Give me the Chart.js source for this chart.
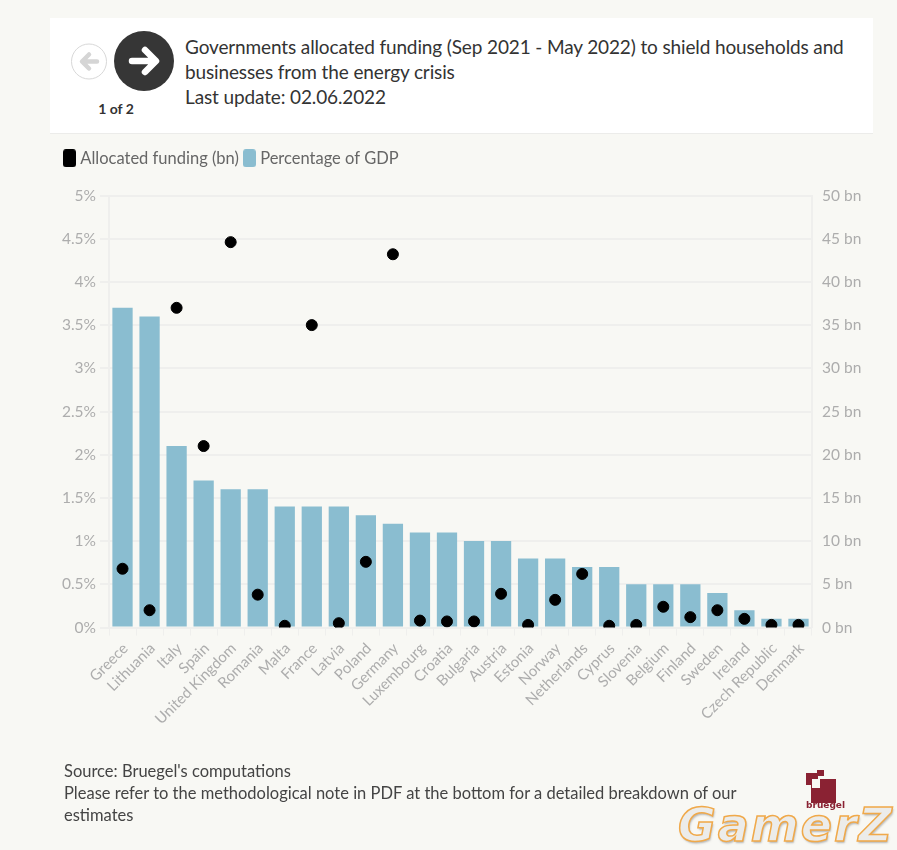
<!DOCTYPE html>
<html><head><meta charset="utf-8">
<script src="https://cdn.jsdelivr.net/npm/chart.js@4"></script>
<style>
html,body{margin:0;padding:0;width:897px;height:850px;overflow:hidden;background:#f8f8f4;font-family:Lato,sans-serif;}
canvas{position:absolute;left:0;top:0;}
.abs{position:absolute;}
#head{left:50px;top:18px;width:823px;height:115px;background:#fff;border-bottom:1px solid #ececea;}
#title{left:185px;top:34px;width:680px;font-family:Lato;font-size:19px;letter-spacing:-0.13px;line-height:25px;color:#333;white-space:nowrap;}
#page{left:90px;top:100px;width:52px;text-align:center;font-family:Lato;font-weight:700;font-size:14px;color:#333;}
#src{left:64px;top:760px;font-family:Lato;font-size:16.5px;line-height:22px;color:#444;white-space:nowrap;}
#wm{left:678px;top:796px;font-family:"DejaVu Sans";font-style:italic;font-weight:700;font-size:46px;line-height:58px;letter-spacing:2px;color:#ececea;-webkit-text-stroke:1.5px #f0a94a;white-space:nowrap;text-shadow:1px 2px 2px rgba(120,120,120,.5);}
#brand{left:806px;top:800px;font-family:"DejaVu Sans";font-weight:700;font-size:9px;color:#8a2233;}
</style></head><body>
<canvas id="c" width="897" height="850"></canvas>
<div class="abs" id="head"></div>
<svg class="abs" style="left:0;top:0" width="897" height="140">
<circle cx="89" cy="61.5" r="17.5" fill="#fff" stroke="#d8d8d8" stroke-width="1"/>
<path d="M97 61.5H83M89 54.5L82 61.5L89 68.5" fill="none" stroke="#d5d5d5" stroke-width="4.5" stroke-linecap="round" stroke-linejoin="round"/>
<circle cx="144" cy="61" r="30" fill="#363636"/>
<path d="M132 61H154M145 50L156 61L145 72" fill="none" stroke="#fff" stroke-width="6.5" stroke-linecap="round" stroke-linejoin="round"/>
</svg>
<div class="abs" id="title">Governments allocated funding (Sep 2021 - May 2022) to shield households and<br>businesses from the energy crisis<br>Last update: 02.06.2022</div>
<div class="abs" id="page">1 of 2</div>
<div class="abs" id="src">Source: Bruegel's computations<br>Please refer to the methodological note in PDF at the bottom for a detailed breakdown of our<br>estimates</div>
<svg class="abs" style="left:805px;top:769px" width="34" height="34">
<rect x="1" y="4" width="12" height="12" fill="#8a2233"/><rect x="12" y="1" width="7" height="6" fill="#8a2233"/>
<rect x="6" y="10" width="25" height="24" fill="#8a2233"/><rect x="7" y="10" width="8" height="9" fill="#f8f8f4"/>
</svg>
<div class="abs" id="brand">bruegel</div>
<div class="abs" id="wm">GamerZ</div>
<script>
const categories=["Greece","Lithuania","Italy","Spain","United Kingdom","Romania","Malta","France","Latvia","Poland","Germany","Luxembourg","Croatia","Bulgaria","Austria","Estonia","Norway","Netherlands","Cyprus","Slovenia","Belgium","Finland","Sweden","Ireland","Czech Republic","Denmark"];
const gdpPercent=[3.7,3.6,2.1,1.7,1.6,1.6,1.4,1.4,1.4,1.3,1.2,1.1,1.1,1.0,1.0,0.8,0.8,0.7,0.7,0.5,0.5,0.5,0.4,0.2,0.1,0.1];
const fundingBn=[6.8,2,37,21,44.6,3.8,0.2,35,0.5,7.6,43.2,0.8,0.7,0.7,3.9,0.3,3.2,6.2,0.2,0.3,2.4,1.2,2,1,0.3,0.3];
const GRID="#efefed",TICK="#adadad",FONT="Lato";
function swatch(color){
 const s=document.createElement("canvas");s.width=13;s.height=18;
 const g=s.getContext("2d");g.fillStyle=color;g.beginPath();g.roundRect(0,0,13,18,3);g.fill();
 return s;
}
const legendGap={id:"legendGap",beforeInit(ch){
 const f=ch.legend.fit;ch.legend.fit=function(){f.call(this);this.height+=19;};
}};
new Chart(document.getElementById("c"),{
 plugins:[legendGap],
 data:{labels:categories,datasets:[
  {type:"line",label:"Allocated funding (bn)",data:fundingBn,yAxisID:"yR",showLine:false,pointRadius:5.5,pointHoverRadius:5.5,pointBackgroundColor:"#000",pointBorderColor:"#000",backgroundColor:"#000",order:0},
  {type:"bar",label:"Percentage of GDP",data:gdpPercent,yAxisID:"yL",backgroundColor:"#8abdd0",barPercentage:0.75,categoryPercentage:1,order:1}
 ]},
 options:{responsive:false,animation:false,
  layout:{padding:{left:59,right:35,top:142,bottom:1}},
  plugins:{tooltip:{enabled:false},legend:{position:"top",align:"start",
    labels:{usePointStyle:true,pointStyleWidth:5,boxHeight:16,padding:8,color:"#666",font:{family:FONT,size:16.5},
     generateLabels:(ch)=>ch.data.datasets.map((d,i)=>({text:d.label,pointStyle:swatch(d.backgroundColor),fillStyle:d.backgroundColor,strokeStyle:d.backgroundColor,lineWidth:0,datasetIndex:i,fontColor:"#666"}))}}},
  scales:{
   x:{offset:true,afterFit:a=>{a.height=221.5},grid:{drawOnChartArea:false,color:GRID,tickLength:8,lineWidth:1},border:{color:GRID},
      ticks:{color:TICK,font:{family:FONT,size:15},maxRotation:45,minRotation:45,autoSkip:false,padding:4,labelOffset:3}},
   yL:{position:"left",min:0,max:5,grid:{color:GRID,lineWidth:2,tickLength:9},border:{color:GRID,width:2},
      afterFit:a=>{a.width=50},
      ticks:{stepSize:0.5,color:TICK,font:{family:FONT,size:15.5},padding:4,callback:v=>v+"%"}},
   yR:{position:"right",min:0,max:50,grid:{drawOnChartArea:false,color:GRID,tickLength:0},border:{color:GRID,width:2},
      afterFit:a=>{a.width=50},
      ticks:{stepSize:5,color:TICK,font:{family:FONT,size:15.5},padding:10,callback:v=>v+" bn"}}
  }}
});
</script>
</body></html>
